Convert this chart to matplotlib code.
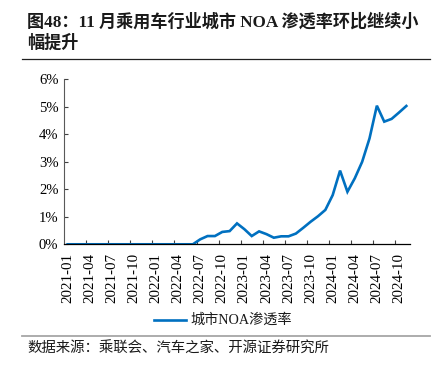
import matplotlib
matplotlib.use("Agg")
import matplotlib.pyplot as plt
from matplotlib.lines import Line2D
import numpy as np
import pandas as pd

# ---- data ----
months = [p.strftime("%Y-%m") for p in pd.period_range("2021-01", "2024-11", freq="M")]
noa_rate = [0.0] * 18 + [
    0.18, 0.30, 0.30, 0.45, 0.48, 0.76,
    0.55, 0.30, 0.47, 0.37, 0.24, 0.29, 0.29, 0.39, 0.60, 0.82, 1.02, 1.25,
    1.79, 2.68, 1.91, 2.40, 3.00, 3.85, 5.04, 4.46, 4.56, 4.79, 5.03,
]
y_ticks = [0, 1, 2, 3, 4, 5, 6]
series_name = "城市NOA渗透率"
title_line1 = "图48：11 月乘用车行业城市 NOA 渗透率环比继续小"
title_line2 = "幅提升"
source_text = "数据来源：乘联会、汽车之家、开源证券研究所"

W, H = 433, 367
fig = plt.figure(figsize=(W / 100, H / 100), dpi=100)
serif_cjk = ["Liberation Serif", "Noto Sans CJK SC"]
blue = "#0070C0"

ax = fig.add_axes([64 / W, 1 - 244.3 / H, (410 - 64) / W, (244.3 - 79.3) / H])
x = np.arange(len(months))
ax.plot(x, noa_rate, color=blue, lw=1.9, solid_joinstyle="miter")
ax.set_xlim(-0.5, len(months) - 0.5)
ax.set_ylim(0, 6)
ax.set_yticks(y_ticks)
ax.set_yticklabels([f"{v}%" for v in y_ticks], fontfamily="Liberation Serif", fontsize=10.5)
lab_idx = list(range(0, len(months), 3))
ax.set_xticks(lab_idx)
ax.set_xticklabels([months[i] for i in lab_idx], rotation=90,
                   fontfamily="Liberation Serif", fontsize=10.8)
ax.tick_params(axis="x", which="major", length=0, pad=6)
ax.set_xticks([i + 2.5 for i in lab_idx if i + 2.5 < len(months) - 0.5], minor=True)
ax.tick_params(axis="x", which="minor", direction="in", length=3, width=0.8, color="#404040")
ax.tick_params(axis="y", direction="in", length=3, width=0.8, color="#404040", pad=4)
for s in ["top", "right"]:
    ax.spines[s].set_visible(False)
ax.spines["left"].set_color("#595959")
ax.spines["left"].set_linewidth(0.8)
ax.spines["bottom"].set_color("#000000")
ax.spines["bottom"].set_linewidth(0.9)

# title
fig.text(27 / W, 1 - 21.5 / H, title_line1, fontfamily=serif_cjk, fontweight="bold",
         fontsize=12.3, va="center", ha="left", color="#1a1a1a")
fig.text(27 / W, 1 - 43.5 / H, title_line2, fontfamily=serif_cjk, fontweight="bold",
         fontsize=12.3, va="center", ha="left", color="#1a1a1a")
fig.add_artist(Line2D([22 / W, 430 / W], [1 - 58.5 / H, 1 - 58.5 / H], color="#202020", lw=0.9))

# legend
fig.add_artist(Line2D([154 / W, 186 / W], [1 - 320 / H, 1 - 320 / H], color=blue, lw=1.9))
fig.text(190 / W, 1 - 320 / H, series_name, fontfamily=serif_cjk, fontsize=10.2,
         va="center", ha="left", color="#1a1a1a")

# footer
fig.add_artist(Line2D([22 / W, 430 / W], [1 - 335.5 / H, 1 - 335.5 / H], color="#a6a6a6", lw=1.3))
fig.text(27 / W, 1 - 349 / H, source_text, fontfamily=serif_cjk, fontsize=10.4,
         va="center", ha="left", color="#1a1a1a")

fig.savefig("out.png", dpi=100)
